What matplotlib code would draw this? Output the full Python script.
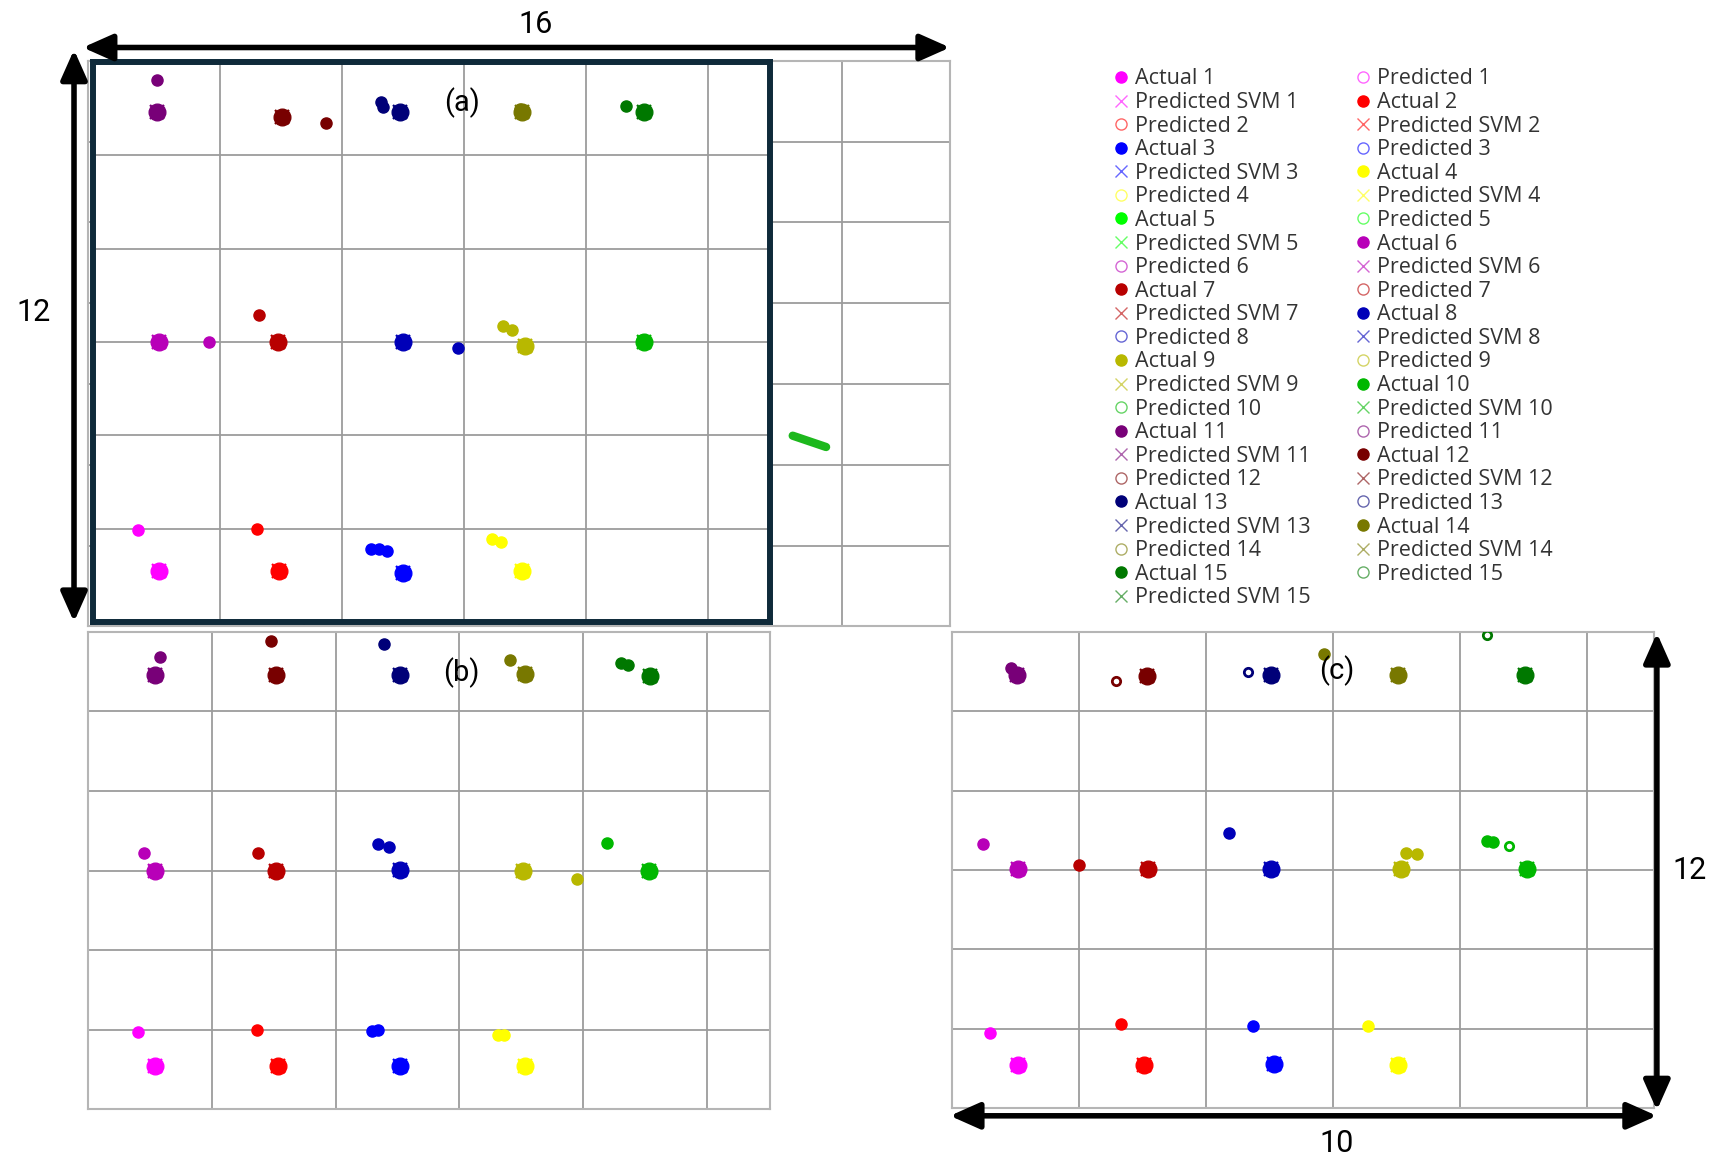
import matplotlib.pyplot as plt
from matplotlib.lines import Line2D
from matplotlib.patches import FancyArrowPatch

plt.rcParams['font.family'] = ['Roboto', 'DejaVu Sans']

# layout is measured on a 1568 x 1050 copy of the figure
W, H = 1568, 1050

class_colors = ['#FF00FF', '#FF0000', '#0000FF', '#FFFF00', '#00FF00',
                '#B800B8', '#B80000', '#0000B8', '#B8B800', '#00B800',
                '#780078', '#780000', '#000078', '#787800', '#007800']
classes = list(range(1, 16))

# panel (a) - columns are 1 unit wide, rows 1 unit tall
a_actual = {1: (0.50, 0.55), 2: (1.49, 0.55), 3: (2.50, 0.53), 4: (3.48, 0.55),
            6: (0.50, 3.00), 7: (1.48, 3.00), 8: (2.50, 3.00), 9: (3.50, 2.96), 10: (4.48, 3.00),
            11: (0.49, 5.46), 12: (1.51, 5.41), 13: (2.48, 5.46), 14: (3.48, 5.46), 15: (4.48, 5.46)}
a_pred = {1: [(0.33, 0.98)], 2: [(1.31, 1.00)], 3: [(2.24, 0.78), (2.31, 0.78), (2.37, 0.76)],
          4: [(3.23, 0.89), (3.31, 0.86)], 6: [(0.91, 3.00)], 7: [(1.32, 3.29)], 8: [(2.95, 2.94)],
          9: [(3.32, 3.17), (3.40, 3.13)], 10: [(4.46, 3.02)], 11: [(0.49, 5.81)], 12: [(1.87, 5.35)],
          13: [(2.32, 5.57), (2.34, 5.52)], 14: [(3.46, 5.50)], 15: [(4.33, 5.53)]}

# panel (b)
b_actual = {1: (0.54, 0.54), 2: (1.53, 0.54), 3: (2.52, 0.54), 4: (3.53, 0.54),
            6: (0.54, 3.00), 7: (1.52, 3.00), 8: (2.52, 3.01), 9: (3.51, 3.00), 10: (4.53, 3.00),
            11: (0.54, 5.46), 12: (1.52, 5.46), 13: (2.52, 5.46), 14: (3.53, 5.47), 15: (4.54, 5.44)}
b_pred = {1: [(0.40, 0.97)], 2: [(1.36, 1.00)], 3: [(2.29, 0.98), (2.34, 1.00)], 4: [(3.31, 0.93), (3.36, 0.93)],
          6: [(0.45, 3.22)], 7: [(1.37, 3.22)], 8: [(2.34, 3.33), (2.43, 3.29)], 9: [(3.95, 2.89)],
          10: [(4.19, 3.35)], 11: [(0.58, 5.69)], 12: [(1.48, 5.89)], 13: [(2.39, 5.85)],
          14: [(3.41, 5.65)], 15: [(4.31, 5.61), (4.36, 5.59)]}

# panel (c)
c_actual = {1: (0.52, 0.54), 2: (1.51, 0.54), 3: (2.53, 0.56), 4: (3.51, 0.54),
            6: (0.52, 3.01), 7: (1.54, 3.01), 8: (2.51, 3.01), 9: (3.53, 3.01), 10: (4.52, 3.01),
            11: (0.51, 5.46), 12: (1.53, 5.45), 13: (2.51, 5.46), 14: (3.51, 5.46), 15: (4.51, 5.46)}
c_pred = {1: [(0.30, 0.95)], 2: [(1.33, 1.06)], 3: [(2.37, 1.04)], 4: [(3.27, 1.04)],
          6: [(0.24, 3.33)], 7: [(1.00, 3.06)], 8: [(2.18, 3.47)], 9: [(3.57, 3.22), (3.66, 3.20)],
          10: [(4.21, 3.37), (4.26, 3.35)], 11: [(0.46, 5.54)], 14: [(2.93, 5.72)]}
c_pred_open = {10: [(4.38, 3.30)], 12: [(1.29, 5.38)], 13: [(2.33, 5.50)], 15: [(4.21, 5.96)]}

# stray green trace in the plot behind panel (a)
bg_line_x = [6.54, 6.85]
bg_line_y = [2.36, 2.22]


def box(x0, y0, x1, y1):
    return [x0 / W, 1 - y1 / H, (x1 - x0) / W, (y1 - y0) / H]


def grid_axes(ax, xmax, ymax, xmin=0):
    ax.set_xlim(xmin, xmax)
    ax.set_ylim(0, ymax)
    ax.set_xticks(range(1, int(xmax) + 1))
    ax.set_yticks(range(1, int(ymax)))
    ax.tick_params(length=0, labelbottom=False, labelleft=False)
    ax.grid(True, color='#9C9C9C', lw=1.3)
    ax.set_axisbelow(True)
    for s in ax.spines.values():
        s.set_color('#B5B5B5')
        s.set_linewidth(1.5)


def draw_panel(ax, actual, pred, pred_open=None):
    for k, (x, y) in actual.items():
        c = class_colors[k - 1]
        ax.plot(x, y, 'o', color=c, ms=12, zorder=3)
        ax.plot(x, y, 'x', color=c, ms=10, mew=1.6, zorder=3)
    for k, pts in pred.items():
        c = class_colors[k - 1]
        ax.plot([p[0] for p in pts], [p[1] for p in pts], 'o', color=c, ms=8, zorder=3)
    if pred_open:
        for k, pts in pred_open.items():
            c = class_colors[k - 1]
            ax.plot([p[0] for p in pts], [p[1] for p in pts], 'o', mfc='white',
                    mec=c, ms=6, mew=2, zorder=3)


fig = plt.figure(figsize=(17.32, 11.6), dpi=100)

# plot lying behind panel (a)
bg = fig.add_axes(box(80, 55, 860, 567))
grid_axes(bg, 8, 7)
bg.plot(bg_line_x, bg_line_y, color='#1DB81D', lw=6, solid_capstyle='round')

ax_a = fig.add_axes(box(84, 56, 697, 563))
grid_axes(ax_a, 5.51, 6, xmin=-0.04)
ax_a.set_facecolor('white')
for s in ax_a.spines.values():
    s.set_color('#0F2A3A')
    s.set_linewidth(4.3)
draw_panel(ax_a, a_actual, a_pred)

ax_b = fig.add_axes(box(80, 572, 697, 1004))
grid_axes(ax_b, 5.51, 6)
draw_panel(ax_b, b_actual, b_pred)

ax_c = fig.add_axes(box(862, 572, 1497, 1003))
grid_axes(ax_c, 5.52, 6)
draw_panel(ax_c, c_actual, c_pred, c_pred_open)

for lbl, (x, y) in {'(a)': (418, 93), '(b)': (418, 609), '(c)': (1210, 607)}.items():
    fig.text(x / W, 1 - y / H, lbl, fontsize=21, ha='center', va='center', zorder=5)

# dimension arrows
arrows = [((75, 43), (860, 43)), ((67, 45), (67, 563)),
          ((1500, 573), (1500, 1005)), ((860, 1010), (1500, 1010))]
for (x0, y0), (x1, y1) in arrows:
    fig.add_artist(FancyArrowPatch((x0 / W, 1 - y0 / H), (x1 / W, 1 - y1 / H),
                                   transform=fig.transFigure, color='black', lw=4,
                                   arrowstyle='<|-|>,head_length=0.9,head_width=0.4',
                                   mutation_scale=20, shrinkA=0, shrinkB=0))
dims = {'16': (485, 22), '12': (30, 283), '12 ': (1530, 788), '10': (1210, 1035)}
for lbl, (x, y) in dims.items():
    fig.text(x / W, 1 - y / H, lbl.strip(), fontsize=22, ha='center', va='center')

# legend, read row by row
handles, labels = [], []
for k in classes:
    c = class_colors[k - 1]
    handles.append(Line2D([], [], ls='none', marker='o', color=c, ms=8))
    labels.append(f'Actual {k}')
    handles.append(Line2D([], [], ls='none', marker='o', mfc='none', mec=c, ms=8, alpha=0.6))
    labels.append(f'Predicted {k}')
    handles.append(Line2D([], [], ls='none', marker='x', color=c, ms=9, alpha=0.6))
    labels.append(f'Predicted SVM {k}')
order = list(range(0, 45, 2)) + list(range(1, 45, 2))
fig.legend([handles[i] for i in order], [labels[i] for i in order], ncol=2,
           loc='upper left', bbox_to_anchor=(1008 / W, 1 - 62 / H), frameon=False,
           prop={'family': ['Open Sans', 'DejaVu Sans'], 'size': 15.5},
           labelcolor='#333333',
           handlelength=0.7, handletextpad=0.3, labelspacing=0.12,
           columnspacing=2.1, borderpad=0, borderaxespad=0)

fig.savefig('out.png', dpi=100)
